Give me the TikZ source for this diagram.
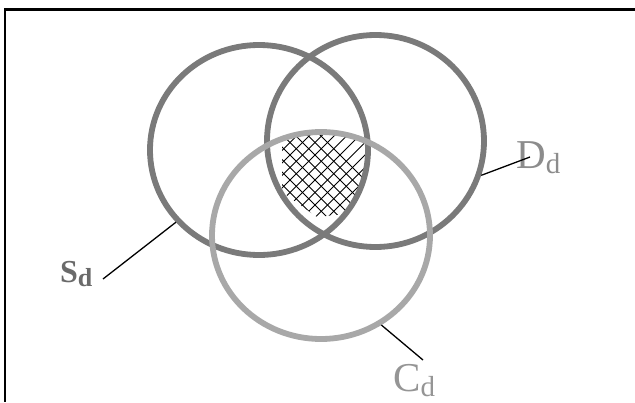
\documentclass[tikz,border=0pt]{standalone}
\usepackage{fontspec}
\setmainfont{Liberation Serif}
\usetikzlibrary{shapes.geometric}
\definecolor{ringdark}{HTML}{7A7A7A}
\definecolor{ringlight}{HTML}{A8A8A8}
\definecolor{labS}{HTML}{6A6A6A}
\definecolor{labD}{HTML}{8C8C8C}
\definecolor{labC}{HTML}{959595}
\newcommand\subd[2]{\raisebox{#1}{\fontsize{#2}{#2}\selectfont d}}
\begin{document}
\begin{tikzpicture}[x=1pt,y=-1pt,
  ring/.style={ellipse, draw, line width=5.8pt, minimum width=218pt, minimum height=210pt, inner sep=0pt},
  leader/.style={draw=black, line width=1.3pt},
  lab/.style={inner sep=0pt, anchor=base west, font=\fontsize{41}{41}\selectfont},
  hatchline/.style={draw=black, line width=0.8pt}]
\useasboundingbox (0,0) rectangle (635,402);
\fill[white] (0,0) rectangle (635,402);
\draw[line width=2.5pt] (635,9.5) -- (5,9.5) -- (5,402);
% hatched triple intersection
\begin{scope}
  \clip (259,150) ellipse [x radius=109pt, y radius=105pt];
  \clip (375.5,141) ellipse [x radius=108.5pt, y radius=106pt];
  \clip (321,235.5) ellipse [x radius=109pt, y radius=103.5pt];
  \clip (282,120) -- (282,192) -- (317,217) -- (345,214) -- (363,188) -- (372,120) -- cycle;
  \foreach \k in {150,162.5,...,430} {
    \draw[hatchline] (\k,120) -- ++(-120,120);
    \draw[hatchline] (\k-120,120) -- ++(120,120);
  }
\end{scope}
% rings
\node[ring, draw=ringdark] (S) at (259,150) {};
\node[ring, draw=ringdark, minimum width=217pt, minimum height=212pt] (D) at (375.5,141) {};
\node[ring, draw=ringlight, minimum height=207pt] (C) at (321,235.5) {};
% labels
\node[lab, text=labS, font=\bfseries\fontsize{32}{32}\selectfont] (Sd) at (60,282) {S\subd{-4pt}{26}};
\node[lab, text=labD] (Dd) at (516,168) {D\subd{-5pt}{29}};
\node[lab, text=labC] (Cd) at (393,391) {C\subd{-5pt}{29}};
% leaders
\coordinate (sEnd) at (103,279);
\coordinate (dEnd) at (530,157);
\coordinate (cEnd) at (423,360);
\draw[leader] (S.221) -- (sEnd);
\draw[leader] (D.-18) -- (dEnd);
\draw[leader] (C.-56) -- (cEnd);
\end{tikzpicture}
\end{document}
